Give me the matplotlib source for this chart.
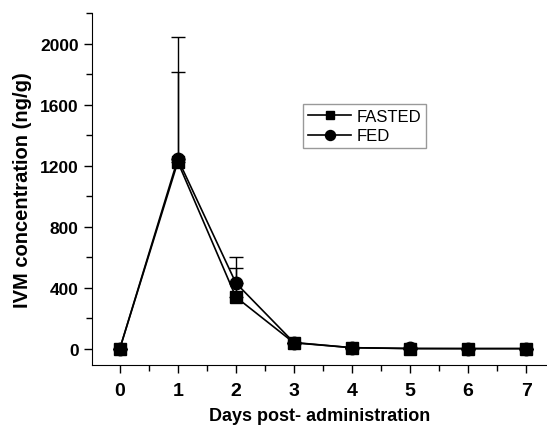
import matplotlib
matplotlib.use('Agg')
import numpy as np
import matplotlib.pyplot as plt
from matplotlib.ticker import MultipleLocator

plt.rcParams['font.family'] = ['Liberation Sans', 'DejaVu Sans']

days = [0, 1, 2, 3, 4, 5, 6, 7]
fasted = [0, 1225, 340, 40, 8, 2, 2, 2]
fasted_err = [0, 590, 190, 0, 0, 0, 0, 0]
fed = [0, 1245, 432, 42, 8, 3, 2, 2]
fed_err = [0, 800, 170, 0, 0, 0, 0, 0]

fig = plt.figure(figsize=(5.47, 4.27), dpi=100)
ax = fig.add_axes([0.168, 0.143, 0.832, 0.824])

ax.errorbar(days, fasted, yerr=[np.zeros(len(days)), fasted_err], color='black',
            marker='s', markersize=8, linewidth=1.2, elinewidth=1, capsize=5,
            label='FASTED')
ax.errorbar(days, fed, yerr=[np.zeros(len(days)), fed_err], color='black',
            marker='o', markersize=9, linewidth=1.2, elinewidth=1, capsize=5,
            label='FED')

ax.set_xlim(-0.48, 7.36)
ax.set_ylim(-105, 2200)
ax.xaxis.set_major_locator(MultipleLocator(1))
ax.xaxis.set_minor_locator(MultipleLocator(0.5))
ax.yaxis.set_major_locator(MultipleLocator(400))
ax.yaxis.set_minor_locator(MultipleLocator(200))
ax.tick_params(which='major', length=6, width=1)
ax.tick_params(axis='y', labelsize=12.5)
ax.tick_params(axis='x', labelsize=14, pad=6)
ax.tick_params(which='minor', length=4, width=1)
for lbl in ax.get_xticklabels() + ax.get_yticklabels():
    lbl.set_fontweight('bold')

ax.spines['top'].set_visible(False)
ax.spines['right'].set_visible(False)

ax.set_xlabel('Days post- administration', fontsize=13, fontweight='bold', labelpad=6)
ax.set_ylabel('IVM concentration (ng/g)', fontsize=14.5, fontweight='bold', labelpad=6)

handles, labels = ax.get_legend_handles_labels()
handles = [h[0] for h in handles]
leg = ax.legend(handles, labels, loc='upper left', bbox_to_anchor=(0.464, 0.741),
                fontsize=12, frameon=True, fancybox=False, handlelength=2.6,
                markerscale=0.8, borderpad=0.3, labelspacing=0.25,
                handletextpad=0.3, borderaxespad=0)
leg.get_frame().set_edgecolor('gray')
leg.get_frame().set_linewidth(1)

fig.savefig('out.png', dpi=100)
